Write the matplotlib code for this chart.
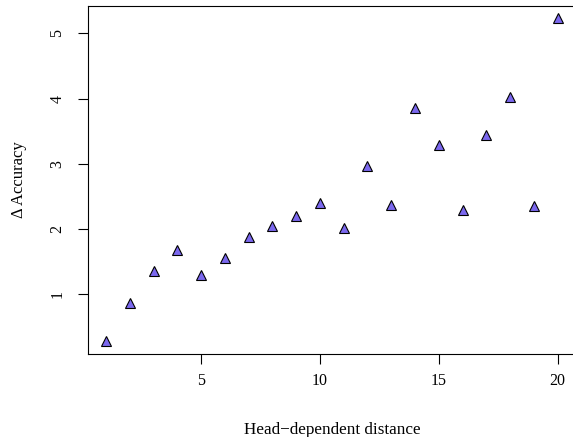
import matplotlib
matplotlib.use("Agg")
import matplotlib.pyplot as plt

# Head-dependent distance vs change in accuracy
distance = [1, 2, 3, 4, 5, 6, 7, 8, 9, 10, 11, 12, 13, 14, 15, 16, 17, 18, 19, 20]
delta_acc = [0.28, 0.86, 1.35, 1.68, 1.29, 1.56, 1.87, 2.04, 2.20, 2.39,
             2.02, 2.97, 2.36, 3.86, 3.29, 2.29, 3.44, 4.02, 2.35, 5.23]
x_ticks = [5, 10, 15, 20]
y_ticks = [1, 2, 3, 4, 5]

plt.rcParams["font.family"] = ["Liberation Serif", "DejaVu Serif"]

fig = plt.figure(figsize=(5.73, 4.37), dpi=100, facecolor="white")
ax = fig.add_axes([0.1536, 0.190, 0.851, 0.796])

ax.plot(distance, delta_acc, linestyle="none", marker="^", markersize=7.2,
        markerfacecolor="#7B68EE", markeredgecolor="black", markeredgewidth=0.8)

ax.set_xlim(0.24, 20.76)
ax.set_ylim(0.08, 5.42)
ax.set_xticks(x_ticks)
ax.set_yticks(y_ticks)
ax.set_yticklabels([str(v) for v in y_ticks], rotation=90, va="center")
ax.tick_params(axis="both", direction="out", length=7.2, width=0.8,
               labelsize=11.5, colors="black")
ax.tick_params(axis="x", pad=6.5)
ax.tick_params(axis="y", pad=9)
for s in ax.spines.values():
    s.set_linewidth(0.8)
    s.set_color("black")

ax.set_xlabel("Head\u2212dependent distance", fontsize=12.3, labelpad=24)
ax.set_ylabel("\u0394 Accuracy", fontsize=12, labelpad=16)

fig.savefig("out.png", dpi=100, facecolor="white")
